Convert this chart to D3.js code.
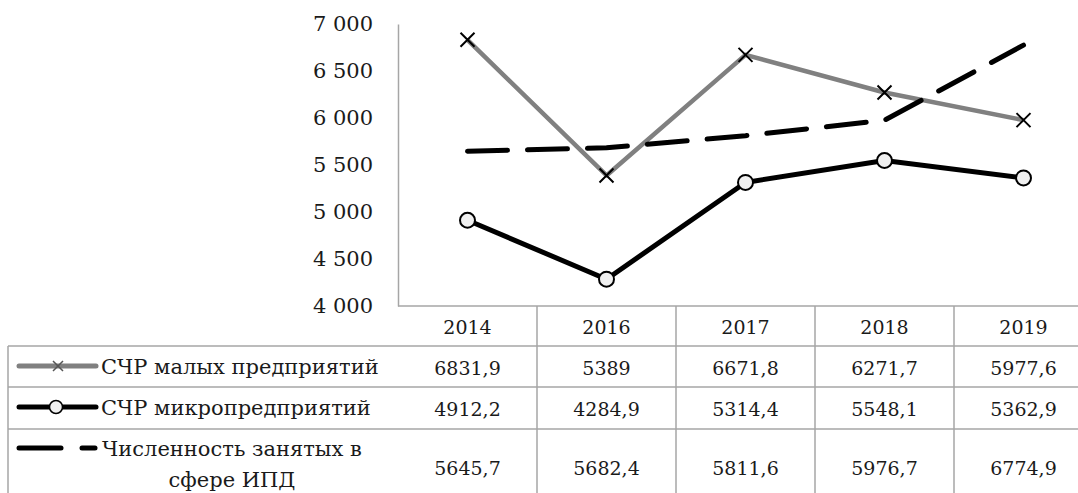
<!DOCTYPE html>
<html>
<head>
<meta charset="utf-8">
<script src="https://cdn.jsdelivr.net/npm/d3@7"></script>
<style>
  html, body { margin: 0; padding: 0; background: #fff; }
  svg { display: block; }
  svg text { font-family: "DejaVu Serif", serif; }
</style>
</head>
<body>
<svg id="chart" width="1078" height="493"></svg>
<script>
const years = ["2014", "2016", "2017", "2018", "2019"];
const smallFirms = [6831.9, 5389, 6671.8, 6271.7, 5977.6];
const microFirms = [4912.2, 4284.9, 5314.4, 5548.1, 5362.9];
const ipdEmployed = [5645.7, 5682.4, 5811.6, 5976.7, 6774.9];
const seriesNames = [
  ["СЧР малых предприятий"],
  ["СЧР микропредприятий"],
  ["Численность занятых в", "сфере ИПД"]
];
const yTicks = [4000, 4500, 5000, 5500, 6000, 6500, 7000];

const svg = d3.select("#chart");
const gridColor = "#a6a6a6";

const x = d3.scaleBand().domain(years).range([398, 1093]).padding(0);
const y = d3.scaleLinear().domain([4000, 7000]).range([306, 24]);
const cx = d => x(d) + x.bandwidth() / 2;

const ru = d3.formatLocale({ decimal: ",", thousands: "\u00a0", grouping: [3], currency: ["", ""] });
const tickFmt = ru.format(",d");
const valFmt = v => String(v).replace(".", ",");

// y axis
const yAxis = svg.append("g")
  .attr("transform", "translate(398,0)")
  .call(d3.axisLeft(y).tickValues(yTicks).tickSize(0).tickPadding(25).tickFormat(tickFmt));
yAxis.attr("font-family", null);
yAxis.select(".domain").attr("stroke", gridColor).attr("stroke-width", 1.5);
yAxis.selectAll("text")
  .attr("font-size", 21)
  .attr("fill", "#1a1a1a");

// data table
const rowTops = [306, 346, 387, 429, 510];
const table = svg.append("g").attr("stroke", gridColor).attr("stroke-width", 1.5);
table.append("line").attr("x1", 398).attr("x2", 1093).attr("y1", rowTops[0]).attr("y2", rowTops[0]);
rowTops.slice(1, 4).forEach(t => {
  table.append("line").attr("x1", 8).attr("x2", 1093).attr("y1", t).attr("y2", t);
});
table.append("line").attr("x1", 8).attr("x2", 8).attr("y1", rowTops[1]).attr("y2", 510);
years.forEach(yr => {
  table.append("line").attr("x1", x(yr) + x.bandwidth()).attr("x2", x(yr) + x.bandwidth())
    .attr("y1", rowTops[0]).attr("y2", 510);
});

const txt = svg.append("g").attr("font-size", 19).attr("fill", "#1a1a1a")
  .attr("text-anchor", "middle").attr("dominant-baseline", "central");
txt.selectAll(".year").data(years).join("text")
  .attr("x", d => cx(d)).attr("y", 327).text(d => d);

const seriesRows = [
  { values: smallFirms, yc: 368 },
  { values: microFirms, yc: 409 },
  { values: ipdEmployed, yc: 468 }
];
seriesRows.forEach(r => {
  txt.append("g").selectAll("text").data(r.values).join("text")
    .attr("x", (d, i) => cx(years[i])).attr("y", r.yc).text(valFmt);
});

// row labels
const lab = svg.append("g").attr("font-size", 21).attr("fill", "#1a1a1a").attr("dominant-baseline", "central");
lab.append("text").attr("x", 101).attr("y", 367).text(seriesNames[0][0]);
lab.append("text").attr("x", 101).attr("y", 408).text(seriesNames[1][0]);
lab.append("g").attr("text-anchor", "middle").selectAll("text").data(seriesNames[2]).join("text")
  .attr("x", 232).attr("y", (d, i) => 449 + i * 31).text(d => d);

// legend keys
const keys = svg.append("g");
keys.append("line").attr("x1", 19).attr("x2", 96).attr("y1", 366).attr("y2", 366)
  .attr("stroke", "#808080").attr("stroke-width", 5).attr("stroke-linecap", "round");
keys.append("path").attr("d", "M53,361L63,371M53,371L63,361")
  .attr("stroke", "#555").attr("stroke-width", 1.5);
keys.append("line").attr("x1", 19).attr("x2", 96).attr("y1", 407).attr("y2", 407)
  .attr("stroke", "#000").attr("stroke-width", 5).attr("stroke-linecap", "round");
keys.append("circle").attr("cx", 56).attr("cy", 407).attr("r", 6.5)
  .attr("fill", "#f0f0f0").attr("stroke", "#000").attr("stroke-width", 1.5);
keys.append("line").attr("x1", 19).attr("x2", 61).attr("y1", 448).attr("y2", 448)
  .attr("stroke", "#000").attr("stroke-width", 5).attr("stroke-linecap", "round");
keys.append("line").attr("x1", 82).attr("x2", 95).attr("y1", 448).attr("y2", 448)
  .attr("stroke", "#000").attr("stroke-width", 5).attr("stroke-linecap", "round");

// series lines
const line = d3.line().x((d, i) => cx(years[i])).y(d => y(d));

svg.append("path").datum(smallFirms).attr("d", line)
  .attr("fill", "none").attr("stroke", "#808080").attr("stroke-width", 4.5)
  .attr("stroke-linejoin", "round");
svg.append("g").selectAll("path").data(smallFirms).join("path")
  .attr("transform", (d, i) => `translate(${cx(years[i])},${y(d)})`)
  .attr("d", "M-7,-7L7,7M-7,7L7,-7")
  .attr("stroke", "#000").attr("stroke-width", 2);

svg.append("path").datum(microFirms).attr("d", line)
  .attr("fill", "none").attr("stroke", "#000").attr("stroke-width", 5)
  .attr("stroke-linejoin", "round");
svg.append("g").selectAll("circle").data(microFirms).join("circle")
  .attr("cx", (d, i) => cx(years[i])).attr("cy", d => y(d)).attr("r", 7.5)
  .attr("fill", "#f0f0f0").attr("stroke", "#000").attr("stroke-width", 2);

svg.append("path").datum(ipdEmployed).attr("d", line)
  .attr("fill", "none").attr("stroke", "#000").attr("stroke-width", 5)
  .attr("stroke-dasharray", "40,20").attr("stroke-linecap", "round")
  .attr("stroke-linejoin", "round");
</script>
</body>
</html>
